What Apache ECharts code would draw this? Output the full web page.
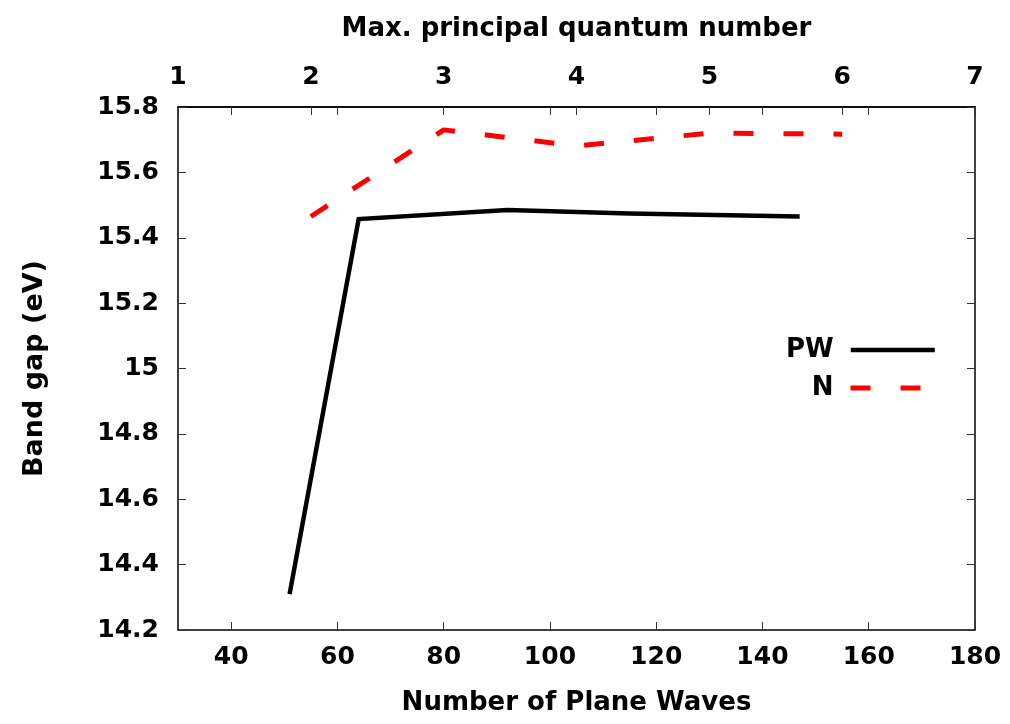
<!DOCTYPE html>
<html>
<head>
<meta charset="utf-8">
<script src="https://cdn.jsdelivr.net/npm/echarts@6/dist/echarts.min.js"></script>
<style>
  html, body { margin: 0; padding: 0; background: #fff; }
  #chart { width: 1010px; height: 724px; }
</style>
</head>
<body>
<div id="chart"></div>
<script>
// Band gap convergence: plane-wave basis (bottom axis) and max. principal quantum number (top axis)
const planeWaves = [51, 64, 92, 115, 147];
const gapPW = [14.31, 15.457, 15.485, 15.474, 15.465];

const quantumN = [2, 3, 4, 5, 6];
const gapN = [15.465, 15.73, 15.681, 15.72, 15.717];

const planeWaveTicks = [40, 60, 80, 100, 120, 140, 160, 180];
const quantumTicks = [1, 2, 3, 4, 5, 6, 7];
const gapTicks = [14.2, 14.4, 14.6, 14.8, 15, 15.2, 15.4, 15.6, 15.8];

const FONT = 'DejaVu Sans';
const tickFont = { fontFamily: FONT, fontWeight: 'bold', fontSize: 25, color: '#000' };
const nameFont = { fontFamily: FONT, fontWeight: 'bold', fontSize: 26, color: '#000' };
const frame = { show: true, onZero: false, lineStyle: { color: '#000', width: 1.5 } };
const innerTick = { show: true, inside: true, length: 8, lineStyle: { color: '#333', width: 1 } };
const gridBox = { left: 178, right: 35, top: 107, bottom: 94, containLabel: false };

const PW_STYLE = { color: '#000', width: 4.5 };
const N_STYLE = { color: '#ff0000', width: 5, type: [20, 30], dashOffset: 0 };

function legendFor(name, top, lineStyle) {
  return {
    data: [name], orient: 'vertical', align: 'right',
    right: 73, top: top, padding: 0,
    itemWidth: 84, itemHeight: 26,
    // only the line sample, no marker
    itemStyle: { opacity: 0, borderWidth: 0 },
    lineStyle: { width: lineStyle.width, type: lineStyle.type || 'solid', color: lineStyle.color, opacity: 1 },
    textStyle: Object.assign({}, nameFont, { padding: [0, 12, 0, 0] }),
    selectedMode: false
  };
}

const chart = echarts.init(document.getElementById('chart'), null, { renderer: 'canvas' });

chart.setOption({
  animation: false,
  backgroundColor: '#fff',
  grid: [Object.assign({}, gridBox), Object.assign({}, gridBox)],
  xAxis: [
    {
      type: 'value', gridIndex: 0, position: 'bottom',
      min: 30, max: 180,
      name: 'Number of Plane Waves', nameLocation: 'middle', nameGap: 60,
      nameTextStyle: nameFont,
      axisLine: frame,
      axisTick: Object.assign({}, innerTick, { customValues: planeWaveTicks }),
      axisLabel: Object.assign({}, tickFont, { margin: 15, customValues: planeWaveTicks }),
      splitLine: { show: false }
    },
    {
      type: 'value', gridIndex: 0, position: 'top',
      min: quantumTicks[0], max: quantumTicks[quantumTicks.length - 1],
      name: 'Max. principal quantum number', nameLocation: 'middle', nameGap: 65,
      nameTextStyle: nameFont,
      axisLine: frame,
      axisTick: Object.assign({}, innerTick, { customValues: quantumTicks }),
      axisLabel: Object.assign({}, tickFont, { margin: 17, customValues: quantumTicks }),
      splitLine: { show: false }
    },
    {
      // mirrored plane-wave ticks along the top edge
      type: 'value', gridIndex: 1, position: 'top',
      min: 30, max: 180,
      axisLine: frame,
      axisTick: Object.assign({}, innerTick, { customValues: planeWaveTicks }),
      axisLabel: { show: false },
      splitLine: { show: false }
    }
  ],
  yAxis: [
    {
      type: 'value', gridIndex: 0, position: 'left',
      min: gapTicks[0], max: gapTicks[gapTicks.length - 1],
      name: 'Band gap (eV)', nameLocation: 'middle', nameGap: 130,
      nameTextStyle: Object.assign({}, nameFont, { fontSize: 27 }),
      axisLine: frame,
      axisTick: Object.assign({}, innerTick, { customValues: gapTicks }),
      axisLabel: Object.assign({}, tickFont, { margin: 19, customValues: gapTicks }),
      splitLine: { show: false }
    },
    {
      // mirrored gap ticks along the right edge
      type: 'value', gridIndex: 1, position: 'right',
      min: gapTicks[0], max: gapTicks[gapTicks.length - 1],
      axisLine: frame,
      axisTick: Object.assign({}, innerTick, { customValues: gapTicks }),
      axisLabel: { show: false },
      splitLine: { show: false }
    }
  ],
  legend: [
    legendFor('PW', 337, PW_STYLE),
    legendFor('N', 375, N_STYLE)
  ],
  series: [
    {
      name: 'PW', type: 'line', xAxisIndex: 0, yAxisIndex: 0,
      data: planeWaves.map((x, i) => [x, gapPW[i]]),
      symbol: 'none', showSymbol: false,
      lineStyle: Object.assign({ join: 'miter' }, PW_STYLE),
      itemStyle: { color: '#000' }
    },
    {
      name: 'N', type: 'line', xAxisIndex: 1, yAxisIndex: 0,
      data: quantumN.map((x, i) => [x, gapN[i]]),
      symbol: 'none', showSymbol: false,
      lineStyle: N_STYLE,
      itemStyle: { color: '#ff0000' }
    }
  ]
});
</script>
</body>
</html>
